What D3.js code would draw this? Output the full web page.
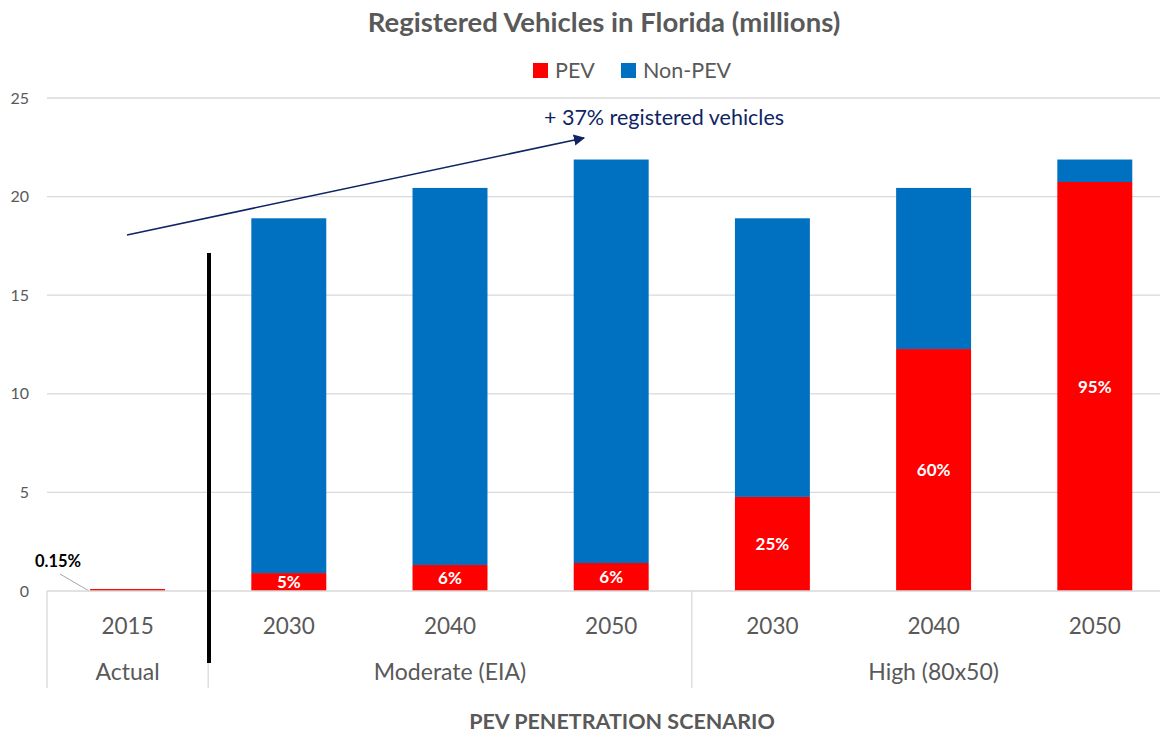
<!DOCTYPE html>
<html>
<head>
<meta charset="utf-8">
<script src="https://cdn.jsdelivr.net/npm/d3@7"></script>
<style>
  body { margin: 0; background: #fff; }
  text { font-family: Lato, "Open Sans", sans-serif; }
</style>
</head>
<body>
<div id="container"></div>
<script>
// chart values
var categories = ["2015", "2030", "2040", "2050", "2030", "2040", "2050"];
var scenarios = ["Actual", "Moderate (EIA)", "High (80x50)"];
var scenarioOf = [0, 1, 1, 1, 2, 2, 2];
var pev = [0.1, 0.91, 1.32, 1.42, 4.77, 12.27, 20.74];
var nonPev = [0, 17.99, 19.12, 20.46, 14.13, 8.17, 1.14];
var pctLabels = ["0.15%", "5%", "6%", "6%", "25%", "60%", "95%"];
var yTicks = [0, 5, 10, 15, 20, 25];
var seriesNames = ["PEV", "Non-PEV"];
var colors = {"PEV": "#ff0000", "Non-PEV": "#0070c0"};

var W = 1164, H = 736;
var svg = d3.select("div#container").append("svg").attr("width", W).attr("height", H);

var plotLeft = 47, step = 161.2, plotRight = 1160;
var xScale = d3.scaleBand()
  .domain(d3.range(categories.length))
  .range([plotLeft, plotLeft + step * categories.length])
  .paddingInner(0.535)
  .paddingOuter(0.2675);

var yScale = d3.scaleLinear().domain([0, 25]).range([591, 98]);

// gridlines
svg.append("g").selectAll("line").data(yTicks.slice(1)).join("line")
  .attr("x1", plotLeft).attr("x2", plotRight)
  .attr("y1", function(d) { return yScale(d); })
  .attr("y2", function(d) { return yScale(d); })
  .attr("stroke", "#d9d9d9").attr("stroke-width", 1.3);

// y tick labels
svg.append("g").selectAll("text").data(yTicks).join("text")
  .attr("x", 29).attr("y", function(d) { return yScale(d); })
  .attr("dy", "0.35em").attr("text-anchor", "end")
  .style("font-size", "16px").attr("fill", "#595959")
  .text(function(d) { return d; });

// stacked bars
var rows = categories.map(function(c, i) { return {i: i, "PEV": pev[i], "Non-PEV": nonPev[i]}; });
var stack = d3.stack().keys(seriesNames)(rows);

svg.append("g").selectAll("g").data(stack).join("g")
  .attr("fill", function(d) { return colors[d.key]; })
  .selectAll("rect").data(function(d) { return d; }).join("rect")
  .attr("x", function(d) { return xScale(d.data.i); })
  .attr("width", xScale.bandwidth())
  .attr("y", function(d) { return yScale(d[1]); })
  .attr("height", function(d) { return yScale(d[0]) - yScale(d[1]); });

// pct labels inside PEV segments
svg.append("g").selectAll("text").data(d3.range(1, categories.length)).join("text")
  .attr("x", function(i) { return xScale(i) + xScale.bandwidth() / 2; })
  .attr("y", function(i) { return yScale(pev[i] / 2); })
  .attr("dy", "0.36em").attr("text-anchor", "middle")
  .style("font-size", "17px").style("font-weight", "bold").attr("fill", "#fff")
  .text(function(i) { return pctLabels[i]; });

// 2015 label with leader line
svg.append("line")
  .attr("x1", 60).attr("y1", 574)
  .attr("x2", xScale(0) - 1).attr("y2", yScale(0))
  .attr("stroke", "#a6a6a6").attr("stroke-width", 1);
svg.append("text")
  .attr("x", 58).attr("y", 561).attr("dy", "0.35em").attr("text-anchor", "middle")
  .style("font-size", "16.5px").style("font-weight", "bold").attr("fill", "#000")
  .text(pctLabels[0]);

// category axis
var axisY = yScale(0);
svg.append("line").attr("x1", plotLeft).attr("x2", plotRight)
  .attr("y1", axisY).attr("y2", axisY).attr("stroke", "#d9d9d9").attr("stroke-width", 1.3);

svg.append("g").selectAll("text").data(categories).join("text")
  .attr("x", function(d, i) { return xScale(i) + xScale.bandwidth() / 2; })
  .attr("y", 626).attr("dy", "0.35em").attr("text-anchor", "middle")
  .style("font-size", "22.5px").attr("fill", "#595959")
  .text(function(d) { return d; });

// scenario group separators and labels
var groupInfo = scenarios.map(function(s, g) {
  var idx = d3.range(categories.length).filter(function(i) { return scenarioOf[i] === g; });
  var x0 = xScale(idx[0]) - xScale.step() * 0.2675;
  var x1 = xScale(idx[idx.length - 1]) + xScale.bandwidth() + xScale.step() * 0.2675;
  return {name: s, x0: x0, x1: x1};
});
svg.append("g").selectAll("line").data(groupInfo).join("line")
  .attr("x1", function(d) { return d.x0; }).attr("x2", function(d) { return d.x0; })
  .attr("y1", axisY).attr("y2", 688)
  .attr("stroke", "#d9d9d9").attr("stroke-width", 1.3);
svg.append("g").selectAll("text").data(groupInfo).join("text")
  .attr("x", function(d) { return (d.x0 + d.x1) / 2; })
  .attr("y", 672).attr("dy", "0.35em").attr("text-anchor", "middle")
  .style("font-size", "23px").attr("fill", "#595959")
  .text(function(d) { return d.name; });

// black divider between actual and scenarios
svg.append("line").attr("x1", 209).attr("x2", 209).attr("y1", 253).attr("y2", 663)
  .attr("stroke", "#000").attr("stroke-width", 4);

// growth arrow
svg.append("defs").append("marker")
  .attr("id", "arrow").attr("viewBox", "0 0 10 10").attr("refX", 9).attr("refY", 5)
  .attr("markerWidth", 7).attr("markerHeight", 7).attr("orient", "auto")
  .append("path").attr("d", "M0,0 L10,5 L0,10 z").attr("fill", "#0e2463");
svg.append("line")
  .attr("x1", 127).attr("y1", 235).attr("x2", 584).attr("y2", 138)
  .attr("stroke", "#0e2463").attr("stroke-width", 1.6)
  .attr("marker-end", "url(#arrow)");
svg.append("text").attr("x", 664).attr("y", 117).attr("dy", "0.35em").attr("text-anchor", "middle")
  .style("font-size", "21.5px").attr("fill", "#0e2463")
  .text("+ 37% registered vehicles");

// title
svg.append("text").attr("x", 604).attr("y", 22).attr("dy", "0.35em").attr("text-anchor", "middle")
  .style("font-size", "27.5px").style("font-weight", "bold").attr("fill", "#595959")
  .text("Registered Vehicles in Florida (millions)");

// legend
var legendX = [533, 621];
var lg = svg.append("g").selectAll("g").data(seriesNames).join("g")
  .attr("transform", function(d, i) { return "translate(" + legendX[i] + ",63)"; });
lg.append("rect").attr("width", 15).attr("height", 15).attr("fill", function(d) { return colors[d]; });
lg.append("text").attr("x", 22).attr("y", 7.5).attr("dy", "0.35em")
  .style("font-size", "21.5px").attr("fill", "#595959")
  .text(function(d) { return d; });

// x axis title
svg.append("text").attr("x", 622).attr("y", 721).attr("dy", "0.35em").attr("text-anchor", "middle")
  .style("font-size", "21.5px").style("font-weight", "bold").attr("fill", "#595959")
  .text("PEV PENETRATION SCENARIO");
</script>
</body>
</html>
